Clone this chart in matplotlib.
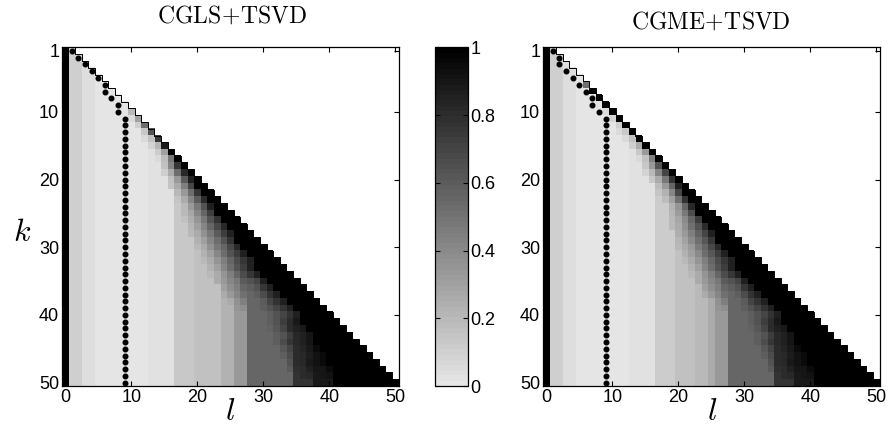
import numpy as np
import matplotlib
matplotlib.use("Agg")
import matplotlib.pyplot as plt
from matplotlib.colors import ListedColormap

plt.rcParams['mathtext.fontset'] = 'cm'
plt.rcParams['font.family'] = ['Liberation Sans', 'DejaVu Sans']

# ---------------- data ----------------
k_values = list(range(1, 51))          # rows (iteration k)
l_values = list(range(0, 51))          # columns (truncation l)

# asymptotic column values (percent), l = 0..50
cgls_base = [100, 10, 10, 4, 4, 1, 1, 1, 1, 1, 1, 1, 1, 3, 3, 3, 3,
             13, 13, 13, 17, 17, 17, 17, 23, 23, 33, 33,
             56, 56, 56, 56, 56, 56, 56, 78, 78, 78, 89, 89, 89,
             100, 100, 100, 100, 100, 100, 100, 100, 100, 100]
cgme_base = [100, 10, 10, 4, 4, 1, 1, 1, 1, 1, 1, 1, 1, 3, 3, 3, 3,
             12, 12, 12, 17, 17, 17, 20, 20, 26, 33, 33,
             56, 56, 56, 56, 56, 56, 56, 78, 78, 78, 89, 89, 89,
             100, 100, 100, 100, 100, 100, 100, 100, 100, 100]

# values near the diagonal (percent), listed from l = k going left
cgls_tails = {
    10: [20],
    11: [30, 6],
    12: [52, 10],
    13: [63, 13],
    14: [75, 17, 5],
    15: [88, 21, 8],
    16: [100, 30, 12],
    17: [100, 48, 18, 6],
    18: [100, 75, 41, 17],
    19: [100, 82, 52, 26, 10],
    20: [100, 85, 60, 33, 17],
    21: [100, 100, 70, 45, 26, 15],
    22: [100, 100, 75, 52, 33, 19],
    23: [100, 100, 80, 60, 41, 26, 15],
    24: [100, 100, 85, 63, 48, 33, 20],
    25: [100, 100, 100, 72, 56, 41, 28, 19],
    26: [100, 100, 100, 78, 63, 48, 35, 24, 17],
    27: [100, 100, 100, 82, 68, 55, 41, 30, 21],
    28: [100, 100, 100, 85, 72, 60, 48, 36, 26, 19],
    29: [100, 100, 100, 100, 78, 63, 52, 41, 30, 22],
    30: [100, 100, 100, 100, 82, 68, 56, 48, 36, 26, 19],
    31: [100, 100, 100, 100, 85, 72, 63, 52, 41, 30, 22],
    32: [100, 100, 100, 100, 85, 75, 66, 56, 45, 35, 26, 19],
    33: [100, 100, 100, 100, 100, 85, 72, 63, 52, 41, 30, 22],
    34: [100, 100, 100, 100, 100, 85, 75, 66, 56, 45, 35, 26, 19],
    35: [100, 100, 100, 100, 100, 85, 70, 63, 60, 48, 41, 33, 26],
    36: [100, 100, 100, 100, 100, 85, 75, 63, 58, 56, 45, 38, 30],
    37: [100, 100, 100, 100, 100, 85, 78, 66, 58, 56, 50, 41, 33, 25],
    38: [100, 100, 100, 100, 100, 85, 78, 70, 60, 56, 56, 45, 36, 26],
    39: [100, 100, 100, 100, 100, 85, 78, 70, 63, 58, 56, 56, 38, 35],
    40: [100, 100, 100, 100, 100, 85, 78, 70, 63, 58],
    41: [100, 100, 100, 100, 100, 100, 88, 80, 72, 64, 58],
    42: [100, 100, 100, 100, 100, 100, 88, 85, 80, 70, 62, 57],
    43: [100, 100, 100, 100, 100, 100, 90, 85, 82, 72, 64, 58],
    44: [100, 100, 100, 100, 100, 100, 100, 90, 85, 82, 75, 66, 58],
    45: [100, 100, 100, 100, 100, 100, 100, 95, 88, 84, 80, 70, 62],
    46: [100, 100, 100, 100, 100, 100, 100, 95, 92, 86, 82, 80, 66, 58],
    47: [100, 100, 100, 100, 100, 100, 100, 100, 95, 92, 88, 82, 80, 63],
    48: [100, 100, 100, 100, 100, 100, 100, 100, 95, 90, 90, 85, 80, 79, 60],
    49: [100, 100, 100, 100, 100, 100, 100, 100, 100, 92, 90, 89, 82, 80],
}
cgme_tails = {
    6: [50],
    7: [100],
    8: [100],
    9: [100],
    10: [100, 5],
    11: [100, 8],
    12: [100, 10],
    13: [100, 13, 5],
    14: [100, 17, 6],
    15: [100, 25, 10],
    16: [100, 33, 13],
    17: [100, 45, 17, 6],
    18: [100, 63, 33, 13],
    19: [100, 70, 41, 19, 8],
    20: [100, 78, 48, 26, 13],
    21: [100, 85, 56, 33, 18],
    22: [100, 100, 70, 41, 22, 15],
    23: [100, 100, 78, 50, 30, 18],
    24: [100, 100, 82, 56, 35, 22],
    25: [100, 100, 100, 66, 48, 32, 21],
    26: [100, 100, 100, 72, 56, 40, 27, 19],
    27: [100, 100, 100, 80, 63, 50, 37, 26, 19],
    28: [100, 100, 100, 85, 70, 57, 44, 33, 24],
    29: [100, 100, 100, 100, 76, 62, 50, 40, 29, 21],
    30: [100, 100, 100, 100, 82, 68, 56, 46, 34, 25, 19],
    31: [100, 100, 100, 100, 85, 72, 62, 52, 40, 30, 22],
    32: [100, 100, 100, 100, 85, 75, 66, 56, 45, 35, 26, 19],
    33: [100, 100, 100, 100, 100, 85, 72, 63, 52, 41, 30, 22],
    34: [100, 100, 100, 100, 100, 85, 75, 66, 56, 45, 35, 26, 19],
    35: [100, 100, 100, 100, 100, 85, 70, 63, 60, 48, 41, 33, 26],
    36: [100, 100, 100, 100, 100, 85, 75, 63, 58, 56, 45, 38, 30],
    37: [100, 100, 100, 100, 100, 85, 78, 66, 58, 56, 50, 41, 33, 25],
    38: [100, 100, 100, 100, 100, 85, 78, 70, 60, 56, 56, 45, 36, 26],
    39: [100, 100, 100, 100, 100, 85, 78, 70, 63, 58, 56, 56, 38, 35],
    40: [100, 100, 100, 100, 100, 85, 78, 70, 63, 58],
    41: [100, 100, 100, 100, 100, 100, 88, 80, 72, 64, 58],
    42: [100, 100, 100, 100, 100, 100, 88, 85, 80, 70, 62, 57],
    43: [100, 100, 100, 100, 100, 100, 90, 85, 82, 72, 64, 58],
    44: [100, 100, 100, 100, 100, 100, 100, 90, 85, 82, 75, 66, 58],
    45: [100, 100, 100, 100, 100, 100, 100, 95, 88, 84, 80, 70, 62],
    46: [100, 100, 100, 100, 100, 100, 100, 95, 92, 86, 82, 80, 66, 58],
    47: [100, 100, 100, 100, 100, 100, 100, 100, 95, 92, 88, 82, 80, 63],
    48: [100, 100, 100, 100, 100, 100, 100, 100, 95, 90, 90, 85, 80, 79, 60],
    49: [100, 100, 100, 100, 100, 100, 100, 100, 100, 92, 90, 89, 82, 80],
}

# best truncation index l for each k (dots)
cgls_best_l = [1, 2, 3, 4, 5, 6, 6, 7, 8, 8,
               9, 9, 9, 9, 9, 9, 9, 9, 9, 9, 9, 9, 9, 9, 9, 9, 9, 9, 9, 9,
               9, 9, 9, 9, 9, 9, 9, 9, 9, 9, 9, 9, 9, 9, 9, 9, 9, 9, 9, 9]
cgme_best_l = [1, 2, 2, 3, 4, 5, 6, 7, 7, 8,
               9, 9, 9, 9, 9, 9, 9, 9, 9, 9, 9, 9, 9, 9, 9, 9, 9, 9, 9, 9,
               9, 9, 9, 9, 9, 9, 9, 9, 9, 9, 9, 9, 9, 9, 9, 9, 9, 9, 9, 9]

xticks = [0, 10, 20, 30, 40, 50]
yticks = [1, 10, 20, 30, 40, 50]
cbar_ticks = [0, 0.2, 0.4, 0.6, 0.8, 1]
cbar_ticklabels = ['0', '0.2', '0.4', '0.6', '0.8', '1']


def build_matrix(base, tails):
    M = np.full((len(k_values), len(l_values)), np.nan)
    for i, k in enumerate(k_values):
        M[i, :k + 1] = np.array(base[:k + 1]) / 100.0
        for j, v in enumerate(tails.get(k, [])):
            M[i, k - j] = v / 100.0
    return M


cmap = ListedColormap(np.repeat(np.linspace(0.9, 0.0, 64)[:, None], 3, axis=1))
cmap.set_bad('white')

W, H = 889, 436
fig = plt.figure(figsize=(W / 100, H / 100), dpi=100)


def add_ax(x0, y0, x1, y1):
    return fig.add_axes([x0 / W, 1 - y1 / H, (x1 - x0) / W, (y1 - y0) / H])


ax1 = add_ax(62, 47.5, 398.5, 386)
ax2 = add_ax(543, 47.5, 879.5, 386)
cax = add_ax(435, 47.5, 467.5, 386)

panels = [(ax1, cgls_base, cgls_tails, cgls_best_l),
          (ax2, cgme_base, cgme_tails, cgme_best_l)]
for ax, base, tails, best in panels:
    M = np.ma.masked_invalid(build_matrix(base, tails))
    im = ax.imshow(M, cmap=cmap, vmin=0, vmax=1, interpolation='nearest',
                   extent=(-0.5, 50.5, 50.5, 0.5), aspect='auto')
    # staircase outline of the triangle
    sx, sy = [], []
    for k in k_values:
        sx += [k - 0.5, k + 0.5, k + 0.5]
        sy += [k - 0.5, k - 0.5, k + 0.5]
    ax.plot(sx, sy, color='black', lw=0.7)
    ax.plot(best, k_values, 'o', color='black', ms=3.3, mec='black')
    ax.set_xlim(-0.5, 50.5)
    ax.set_ylim(50.5, 0.5)
    ax.set_xticks(xticks)
    ax.set_yticks(yticks)
    ax.tick_params(direction='in', top=True, right=True, length=3.5,
                   width=0.8, labelsize=13, pad=2)
    for s in ax.spines.values():
        s.set_linewidth(0.9)

cb = fig.colorbar(im, cax=cax, ticks=cbar_ticks)
cb.set_ticklabels(cbar_ticklabels)
cax.tick_params(direction='in', left=True, right=True, length=3.5,
                width=0.8, labelsize=13, pad=2)
cb.outline.set_linewidth(0.9)

fig.text(232 / W, 1 - 16 / H, r'$\mathrm{CGLS}\!+\!\mathrm{TSVD}$', ha='center',
         va='center', fontsize=17)
fig.text(711 / W, 1 - 22 / H, r'$\mathrm{CGME}\!+\!\mathrm{TSVD}$', ha='center',
         va='center', fontsize=17)
fig.text(230 / W, 1 - 412 / H, r'$l$', ha='center', va='center', fontsize=23)
fig.text(712 / W, 1 - 412 / H, r'$l$', ha='center', va='center', fontsize=23)
fig.text(22 / W, 1 - 233 / H, r'$k$', ha='center', va='center', fontsize=23)

fig.savefig('out.png', dpi=100)
